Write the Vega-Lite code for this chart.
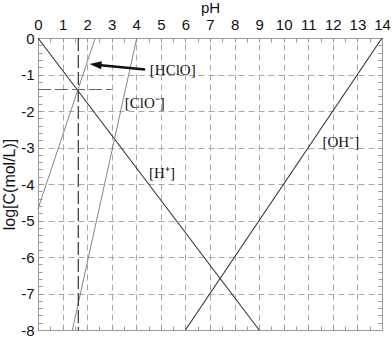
{
  "$schema": "https://vega.github.io/schema/vega-lite/v6.json",
  "width": 344,
  "height": 292,
  "autosize": {"type": "none"},
  "padding": {"left": 38, "top": 38, "right": 10, "bottom": 7},
  "background": "white",
  "config": {
    "view": {"stroke": null},
    "axis": {
      "labelFont": "Liberation Sans",
      "titleFont": "Liberation Sans",
      "labelFontSize": 15,
      "titleFontSize": 15,
      "titleFontWeight": "normal",
      "labelColor": "#111",
      "titleColor": "#111",
      "domainColor": "#999",
      "tickColor": "#999",
      "gridColor": "#a8a8a8",
      "gridDash": [6, 4]
    }
  },
  "datasets": {
    "bold": [
      {"s": "H", "pH": 0, "c": 0},
      {"s": "H", "pH": 9, "c": -8},
      {"s": "OH", "pH": 6, "c": -8},
      {"s": "OH", "pH": 14, "c": 0}
    ],
    "thin": [
      {"s": "HClO", "pH": 0, "c": -4.68},
      {"s": "HClO", "pH": 2.33, "c": 0},
      {"s": "ClO", "pH": 1.4, "c": -8},
      {"s": "ClO", "pH": 4.02, "c": 0}
    ],
    "vline": [
      {"pH": 1.64, "c": 0},
      {"pH": 1.64, "c": -8}
    ],
    "hline": [
      {"pH": 0, "c": -1.41},
      {"pH": 3.0, "c": -1.41}
    ],
    "arrow": [
      {"pH": 4.36, "c": -0.86, "pH2": 2.34, "c2": -0.73}
    ],
    "head": [
      {"pH": 2.34, "c": -0.73}
    ],
    "labels": [
      {"t": "[HClO]", "pH": 4.55, "c": -0.88},
      {"t": "[ClO⁻]", "pH": 3.53, "c": -1.77},
      {"t": "[H⁺]", "pH": 4.52, "c": -3.69},
      {"t": "[OH⁻]", "pH": 11.58, "c": -2.84}
    ]
  },
  "layer": [
    {
      "data": {"name": "bold"},
      "mark": {"type": "line", "color": "#333", "strokeWidth": 1.1},
      "encoding": {
        "x": {
          "field": "pH", "type": "quantitative",
          "scale": {"domain": [0, 14], "nice": false, "zero": false},
          "axis": {
            "orient": "top",
            "values": [0, 0.5, 1, 1.5, 2, 2.5, 3, 3.5, 4, 4.5, 5, 5.5, 6, 6.5, 7, 7.5, 8, 8.5, 9, 9.5, 10, 10.5, 11, 11.5, 12, 12.5, 13, 13.5, 14],
            "labelExpr": "datum.value % 1 === 0 ? '' + datum.value : ''",
            "labelOverlap": false,
            "labelFlush": false,
            "grid": true,
            "gridOpacity": {"condition": {"test": "datum.value % 1 !== 0", "value": 0}, "value": 1},
            "tickSize": -4,
            "labelPadding": 10,
            "title": "pH",
            "titlePadding": 2
          }
        },
        "y": {
          "field": "c", "type": "quantitative",
          "scale": {"domain": [-8, 0], "nice": false, "zero": false},
          "axis": {
            "orient": "left",
            "values": [0, -0.2, -0.4, -0.6, -0.8, -1, -1.2, -1.4, -1.6, -1.8, -2, -2.2, -2.4, -2.6, -2.8, -3, -3.2, -3.4, -3.6, -3.8, -4, -4.2, -4.4, -4.6, -4.8, -5, -5.2, -5.4, -5.6, -5.8, -6, -6.2, -6.4, -6.6, -6.8, -7, -7.2, -7.4, -7.6, -7.8, -8],
            "labelExpr": "abs(datum.value - round(datum.value)) < 0.001 ? '' + round(datum.value) : ''",
            "labelOverlap": false,
            "labelFlush": false,
            "grid": true,
            "gridOpacity": {"condition": {"test": "abs(datum.value - round(datum.value)) > 0.001", "value": 0}, "value": 1},
            "tickSize": -4,
            "labelPadding": 8,
            "title": "log[C(mol/L)]",
            "titleFontSize": 16,
            "titlePadding": 3
          }
        },
        "detail": {"field": "s"}
      }
    },
    {
      "data": {"name": "thin"},
      "mark": {"type": "line", "color": "#777", "strokeWidth": 0.9},
      "encoding": {
        "x": {
          "field": "pH", "type": "quantitative",
          "axis": {
            "orient": "bottom",
            "values": [0, 0.5, 1, 1.5, 2, 2.5, 3, 3.5, 4, 4.5, 5, 5.5, 6, 6.5, 7, 7.5, 8, 8.5, 9, 9.5, 10, 10.5, 11, 11.5, 12, 12.5, 13, 13.5, 14],
            "labels": false,
            "grid": false,
            "tickSize": -4,
            "title": null
          }
        },
        "y": {
          "field": "c", "type": "quantitative",
          "axis": {
            "orient": "right",
            "values": [0, -0.2, -0.4, -0.6, -0.8, -1, -1.2, -1.4, -1.6, -1.8, -2, -2.2, -2.4, -2.6, -2.8, -3, -3.2, -3.4, -3.6, -3.8, -4, -4.2, -4.4, -4.6, -4.8, -5, -5.2, -5.4, -5.6, -5.8, -6, -6.2, -6.4, -6.6, -6.8, -7, -7.2, -7.4, -7.6, -7.8, -8],
            "labels": false,
            "grid": false,
            "tickSize": -4,
            "title": null
          }
        },
        "detail": {"field": "s"}
      }
    },
    {
      "data": {"name": "vline"},
      "mark": {"type": "line", "color": "#333", "strokeWidth": 1.2, "strokeDash": [13, 4]},
      "encoding": {
        "x": {"field": "pH", "type": "quantitative", "axis": null},
        "y": {"field": "c", "type": "quantitative", "axis": null}
      }
    },
    {
      "data": {"name": "hline"},
      "mark": {"type": "line", "color": "#666", "strokeWidth": 1.1, "strokeDash": [13, 4]},
      "encoding": {
        "x": {"field": "pH", "type": "quantitative", "axis": null},
        "y": {"field": "c", "type": "quantitative", "axis": null}
      }
    },
    {
      "data": {"name": "arrow"},
      "mark": {"type": "rule", "color": "#111", "strokeWidth": 2.5},
      "encoding": {
        "x": {"field": "pH", "type": "quantitative", "axis": null},
        "y": {"field": "c", "type": "quantitative", "axis": null},
        "x2": {"field": "pH2"},
        "y2": {"field": "c2"}
      }
    },
    {
      "data": {"name": "head"},
      "mark": {"type": "point", "shape": "M-1,0L1,-0.67L1,0.67Z", "filled": true, "color": "#111", "opacity": 1, "size": 144, "angle": 5},
      "encoding": {
        "x": {"field": "pH", "type": "quantitative", "axis": null},
        "y": {"field": "c", "type": "quantitative", "axis": null}
      }
    },
    {
      "data": {"name": "labels"},
      "mark": {"type": "text", "font": "Liberation Serif", "fontSize": 15, "align": "left", "baseline": "middle", "color": "#111"},
      "encoding": {
        "x": {"field": "pH", "type": "quantitative", "axis": null},
        "y": {"field": "c", "type": "quantitative", "axis": null},
        "text": {"field": "t"}
      }
    }
  ],
  "resolve": {"axis": {"x": "independent", "y": "independent"}}
}
